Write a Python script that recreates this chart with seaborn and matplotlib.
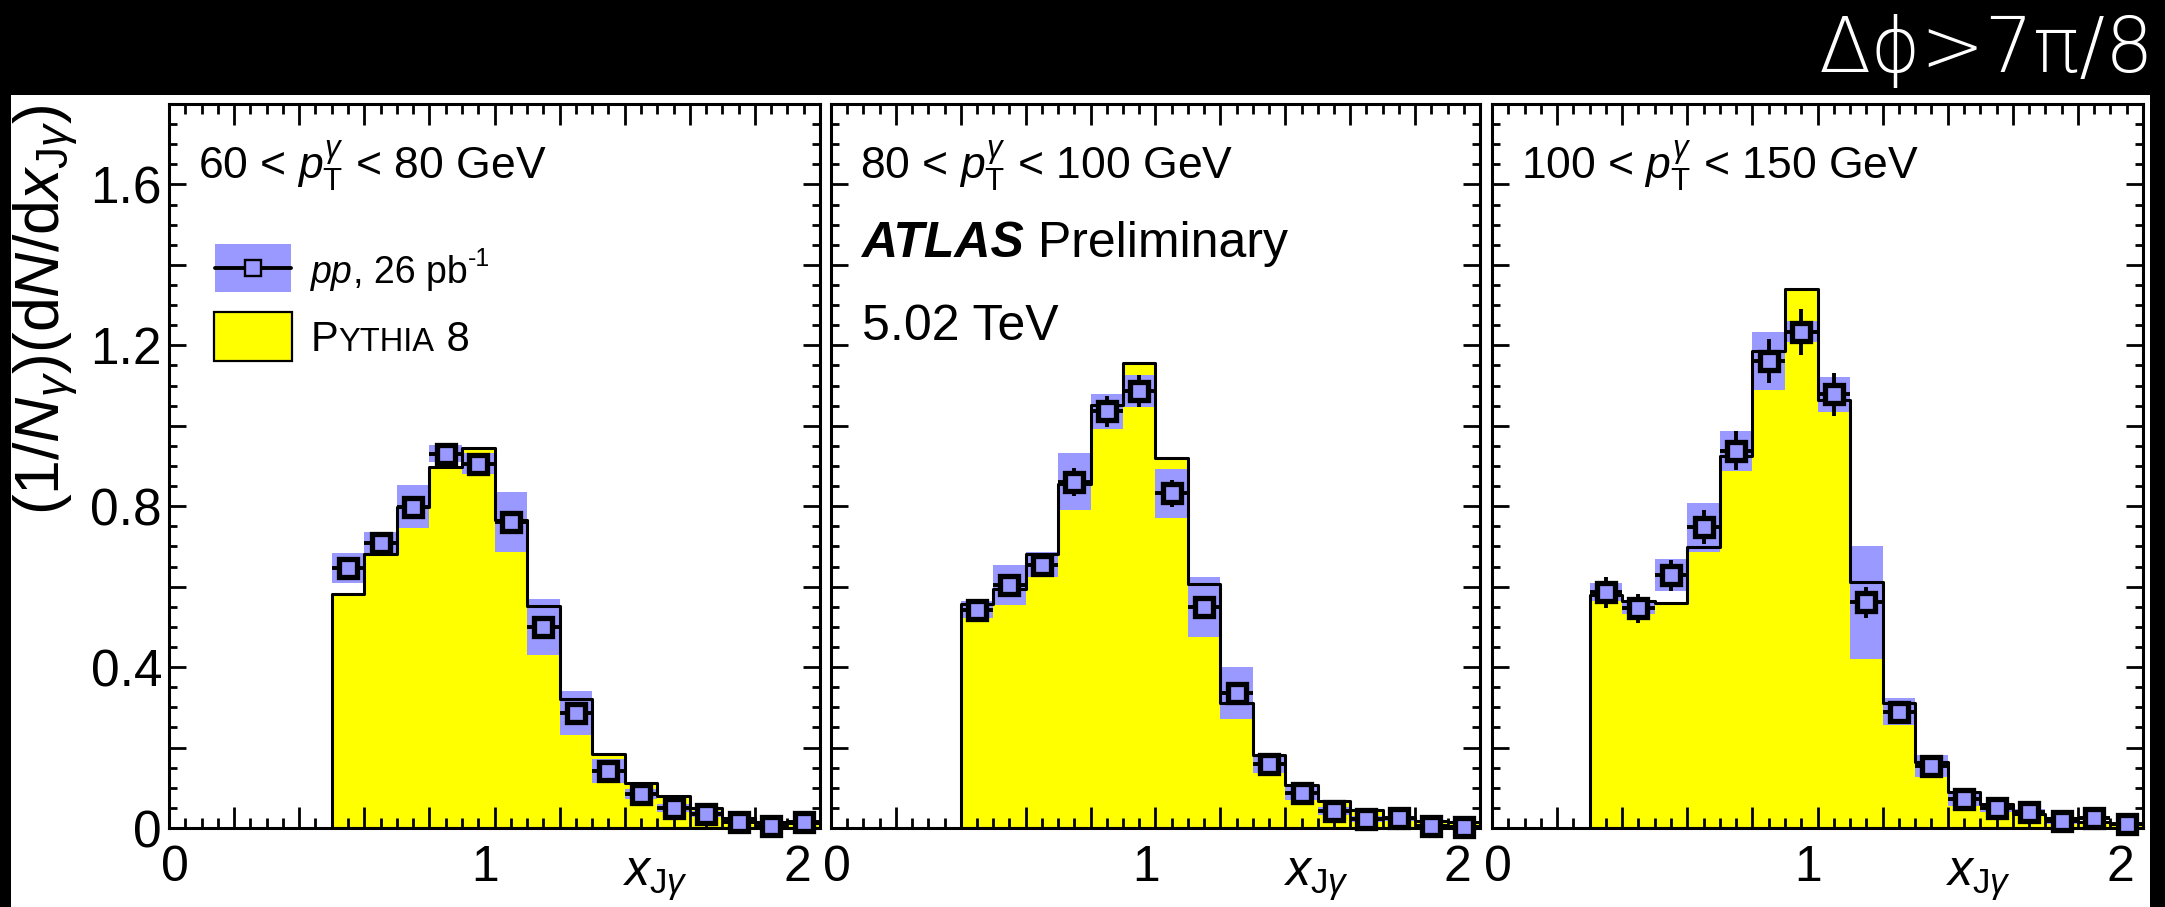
import numpy as np
import pandas as pd
import matplotlib
matplotlib.use("Agg")
import matplotlib.pyplot as plt
import seaborn as sns
from matplotlib.patches import Rectangle
from matplotlib.lines import Line2D
from matplotlib.ticker import FixedLocator, FuncFormatter, MultipleLocator
import matplotlib.transforms as mtransforms

# ---------------- data ----------------
panel_labels = ["60", "80", "100"]
panel_upper = ["80", "100", "150"]
bin_low = [0.5, 0.4, 0.3]          # first bin edge of each panel (bin width 0.1, up to 2.0)
bin_width = 0.1

pythia_1 = [0.581, 0.682, 0.799, 0.898, 0.945, 0.766, 0.553, 0.321, 0.185, 0.111,
            0.079, 0.049, 0.024, 0.014, 0.012]
data_1 = [0.646, 0.708, 0.799, 0.930, 0.906, 0.760, 0.500, 0.286, 0.142, 0.084,
          0.050, 0.035, 0.016, 0.005, 0.014]
stat_1 = [0.015, 0.012, 0.012, 0.012, 0.012, 0.012, 0.012, 0.010, 0.008, 0.006,
          0.005, 0.004, 0.004, 0.003, 0.003]
sys_1 = [0.038, 0.027, 0.054, 0.021, 0.026, 0.075, 0.069, 0.054, 0.030, 0.012,
         0.010, 0.008, 0.006, 0.005, 0.005]

pythia_2 = [0.556, 0.593, 0.682, 0.855, 1.051, 1.155, 0.919, 0.607, 0.310, 0.181,
            0.107, 0.068, 0.045, 0.026, 0.018, 0.014]
data_2 = [0.543, 0.605, 0.654, 0.861, 1.036, 1.086, 0.832, 0.549, 0.335, 0.159,
          0.087, 0.042, 0.022, 0.024, 0.006, 0.002]
stat_2 = [0.020, 0.020, 0.030, 0.035, 0.039, 0.040, 0.033, 0.028, 0.020, 0.012,
          0.010, 0.008, 0.006, 0.005, 0.004, 0.004]
sys_2 = [0.021, 0.050, 0.031, 0.071, 0.043, 0.040, 0.061, 0.074, 0.065, 0.023,
         0.017, 0.010, 0.008, 0.006, 0.005, 0.005]

pythia_3 = [0.580, 0.565, 0.560, 0.699, 0.924, 1.185, 1.341, 1.063, 0.612, 0.312,
            0.165, 0.089, 0.060, 0.034, 0.025, 0.016, 0.011]
data_3 = [0.586, 0.546, 0.628, 0.748, 0.938, 1.161, 1.234, 1.078, 0.561, 0.289,
          0.155, 0.071, 0.050, 0.039, 0.017, 0.025, 0.009]
stat_3 = [0.038, 0.037, 0.039, 0.043, 0.049, 0.055, 0.057, 0.053, 0.039, 0.020,
          0.012, 0.008, 0.006, 0.005, 0.004, 0.004, 0.004]
sys_3 = [0.022, 0.014, 0.040, 0.061, 0.050, 0.072, 0.026, 0.043, 0.140, 0.034,
         0.027, 0.016, 0.010, 0.008, 0.006, 0.005, 0.005]

pythia_all = [pythia_1, pythia_2, pythia_3]
data_all = [data_1, data_2, data_3]
stat_all = [stat_1, stat_2, stat_3]
sys_all = [sys_1, sys_2, sys_3]

x_tick_labels = {0: "0", 1: "1", 2: "2"}
y_tick_labels = {0.0: "0", 0.4: "0.4", 0.8: "0.8", 1.2: "1.2", 1.6: "1.6"}

BLUE = "#9999ff"
YELLOW = "#ffff00"

# ---------------- style ----------------
sns.set_style("ticks")
plt.rcParams.update({
    "font.family": ["Liberation Sans", "DejaVu Sans"],
    "mathtext.fontset": "custom",
    "mathtext.rm": "Liberation Sans",
    "mathtext.it": "Liberation Sans:italic",
    "mathtext.bf": "Liberation Sans:bold",
    "mathtext.sf": "Liberation Sans",
})

W, H = 2165, 907
DPI = 100
fig = plt.figure(figsize=(W / DPI, H / DPI), dpi=DPI, facecolor="black")
fig.add_artist(Rectangle((11 / W, 0), (2150 - 11) / W, (H - 95) / H,
                         transform=fig.transFigure, facecolor="white",
                         edgecolor="none", zorder=0))

panel_px = [(169, 820), (831, 1480), (1492, 2143)]
top_px, bot_px = 104, 828

renderer = fig.canvas.get_renderer()


def seq_text(ax, x, y, pieces):
    """Place text pieces one after another on a common baseline (axes coords).
    Each piece: (string, text kwargs, vertical shift in pixels)."""
    xd, yd = ax.transAxes.transform((x, y))
    inv = ax.transAxes.inverted()
    for s, kw, dy in pieces:
        xa, ya = inv.transform((xd, yd + dy))
        t = ax.text(xa, ya, s, transform=ax.transAxes, ha="left", va="baseline",
                    color="black", **kw)
        bb = t.get_window_extent(renderer=renderer)
        xd = bb.x1


# pixel shifts of the x tick labels (as in the reference rendering)
x_label_shift = {0: 6, 1: -9, 2: -23}

axes = []
for i, (x0, x1) in enumerate(panel_px):
    ax = fig.add_axes([x0 / W, 1 - bot_px / H, (x1 - x0) / W, (bot_px - top_px) / H])
    ax.set_facecolor("white")
    axes.append(ax)

    edges = [round(bin_low[i] + k * bin_width, 2)
             for k in range(int(round((2.0 - bin_low[i]) / bin_width)) + 1)]
    centers = [(a + b) / 2 for a, b in zip(edges[:-1], edges[1:])]
    df = pd.DataFrame({
        "x": centers,
        "pythia": pythia_all[i],
        "data": data_all[i],
        "stat": stat_all[i],
        "sys": sys_all[i],
    })

    # PYTHIA fill
    sns.histplot(data=df, x="x", weights="pythia", bins=edges, element="step",
                 fill=True, color=YELLOW, facecolor=YELLOW, edgecolor="none",
                 linewidth=0, ax=ax, zorder=1)
    # systematic boxes
    ax.bar(df["x"], 2 * df["sys"], bottom=df["data"] - df["sys"], width=bin_width,
           color=BLUE, linewidth=0, zorder=1.2)
    # PYTHIA outline
    sns.histplot(data=df, x="x", weights="pythia", bins=edges, element="step",
                 fill=True, color="black", facecolor="none", edgecolor="black",
                 linewidth=2.2, ax=ax, zorder=1.4)
    # data points
    ax.errorbar(df["x"], df["data"], yerr=df["stat"], xerr=bin_width / 2,
                fmt="none", ecolor="black", elinewidth=2.8, capsize=0,
                zorder=1.6, clip_on=False)
    ax.plot(df["x"], df["data"], ls="none", marker="s", ms=12.5, mfc=BLUE,
            mec="black", mew=3.8, zorder=3, clip_on=False)

    ax.set_xlabel("")
    ax.set_ylabel("")
    ax.set_xlim(0, 2)
    ax.set_ylim(0, 1.8)
    ax.set_axisbelow(False)

    ax.xaxis.set_major_locator(FixedLocator(np.round(np.arange(0, 2.001, 0.2), 2)))
    ax.xaxis.set_minor_locator(MultipleLocator(0.05))
    ax.xaxis.set_major_formatter(FuncFormatter(
        lambda v, p: x_tick_labels.get(int(round(v)), "") if abs(v - round(v)) < 1e-6 else ""))
    ax.yaxis.set_major_locator(FixedLocator(np.round(np.arange(0, 1.801, 0.2), 2)))
    ax.yaxis.set_minor_locator(MultipleLocator(0.05))
    ax.yaxis.set_major_formatter(FuncFormatter(
        lambda v, p: y_tick_labels.get(round(v, 1), "")))

    ax.tick_params(which="both", direction="in", top=True, right=True,
                   width=2, color="black", labelcolor="black")
    ax.tick_params(axis="x", which="major", length=15, labelsize=36, pad=12)
    ax.tick_params(axis="x", which="minor", length=7)
    ax.tick_params(axis="y", which="major", length=12.5, labelsize=37, pad=5)
    ax.tick_params(axis="y", which="minor", length=6)
    if i > 0:
        ax.tick_params(axis="y", labelleft=False)
    for s in ax.spines.values():
        s.set_linewidth(2.2)
        s.set_color("black")
        s.set_zorder(2.5)

    # shift x tick labels horizontally like the reference
    locs = ax.xaxis.get_majorticklocs()
    ticks = ax.xaxis.get_major_ticks(len(locs))
    for tk, v in zip(ticks, locs):
        if abs(v - round(v)) < 1e-6:
            dx = x_label_shift[int(round(v))]
            tk.label1.set_transform(tk.label1.get_transform() +
                                    mtransforms.ScaledTranslation(dx / DPI, 0, fig.dpi_scale_trans))

    # x-axis title
    trans = mtransforms.blended_transform_factory(ax.transData, ax.transAxes)
    ax.text(1.392, -0.04, r"$x_{\mathrm{J}\gamma}$", transform=trans,
            ha="left", va="top", fontsize=36, color="black")

    # pT range label
    ax.text(0.045, 0.897,
            panel_labels[i] + r" < $p_{\mathrm{T}}^{\gamma}$ < " + panel_upper[i] + " GeV",
            transform=ax.transAxes, ha="left", va="baseline", fontsize=32,
            color="black")

# y-axis title
axes[0].text(-0.189, 1.0, r"$(1/N_{\gamma})(\mathrm{d}N/\mathrm{d}x_{\mathrm{J}\gamma})$",
             transform=axes[0].transAxes, rotation=90, ha="center", va="top",
             fontsize=45, color="black")

# legend (panel 1)
ax = axes[0]
ax.add_patch(Rectangle((0.0707, 0.740), 0.117, 0.067, transform=ax.transAxes,
                       facecolor=BLUE, edgecolor="none", zorder=4))
ax.add_line(Line2D([0.0707, 0.1877], [0.7735, 0.7735], transform=ax.transAxes,
                   color="black", lw=2.8, zorder=5))
ax.add_line(Line2D([0.129], [0.7735], transform=ax.transAxes, ls="none",
                   marker="s", ms=11.5, mfc=BLUE, mec="black", mew=1.7, zorder=6))
ax.add_patch(Rectangle((0.0691, 0.645), 0.12, 0.068, transform=ax.transAxes,
                       facecolor=YELLOW, edgecolor="black", lw=1.6, zorder=4))
seq_text(ax, 0.218, 0.753, [("pp", dict(fontsize=27, fontstyle="italic"), 0),
                            (", 26 pb", dict(fontsize=27), 0),
                            ("-1", dict(fontsize=18), 17)])
seq_text(ax, 0.218, 0.659, [("P", dict(fontsize=30), 0),
                            ("YTHIA", dict(fontsize=23.5), 0),
                            (" 8", dict(fontsize=30), 0)])

# ATLAS label (panel 2)
ax = axes[1]
seq_text(ax, 0.047, 0.789, [("ATLAS", dict(fontsize=36, fontweight="bold", fontstyle="italic"), 0),
                            (" Preliminary", dict(fontsize=36), 0)])
seq_text(ax, 0.047, 0.674, [("5.02 TeV", dict(fontsize=36), 0)])

# top banner
fig.text(2154 / W, 1 - 72 / H, "Δϕ>7π/8", color="white", ha="right",
         va="baseline", fontsize=55, family=["DejaVu Sans"], fontweight="light")

fig.savefig("out.png", dpi=DPI, facecolor="black")
